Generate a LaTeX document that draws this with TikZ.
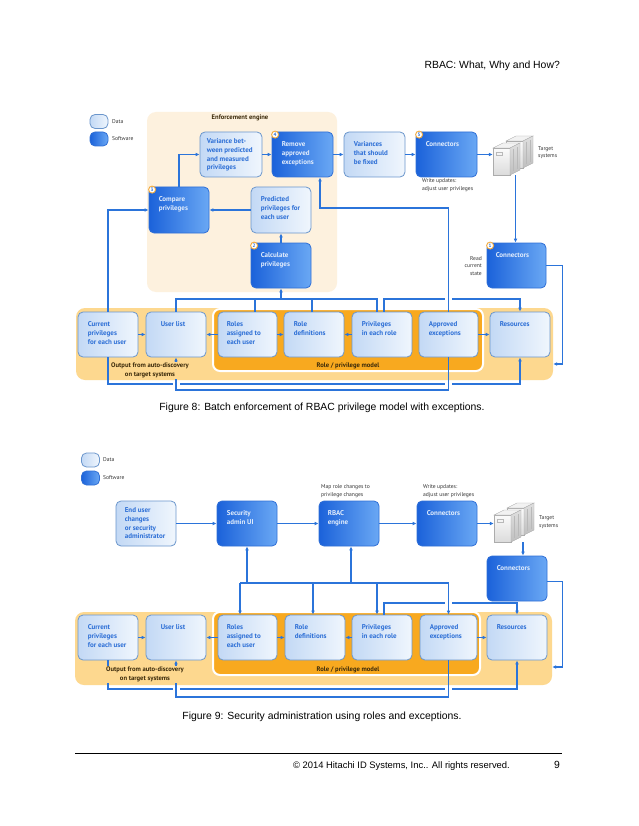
\documentclass[tikz,border=0pt]{standalone}
\usepackage{fontspec}
\setmainfont{Liberation Sans}
\newfontfamily\bxf{PT Sans}
\usetikzlibrary{arrows.meta,calc}
\definecolor{datal}{HTML}{C3D9F5}
\definecolor{datar}{HTML}{F0F6FD}
\definecolor{databorder}{HTML}{6B96CC}
\definecolor{softl}{HTML}{1B62DA}
\definecolor{softr}{HTML}{6AA8F4}
\definecolor{softborder}{HTML}{2F6FD6}
\definecolor{datatext}{HTML}{2D6FD6}
\definecolor{softtext}{HTML}{E2EDFC}
\definecolor{linec}{HTML}{2B74DA}
\definecolor{enfbg}{HTML}{FDF1DE}
\definecolor{outerbg}{HTML}{FDD88F}
\definecolor{modelbg}{HTML}{F8A91F}
\definecolor{labelc}{HTML}{3B2A0A}
\definecolor{notec}{HTML}{333333}
\definecolor{badgeo}{HTML}{F2A93B}
\newcommand\mybox[9]{%
  \node[#2, minimum width={(#5-#3)*1pt}, minimum height={(#6-#4)*1pt}] (#1) at ({(#3+#5)/2},{(#4+#6)/2}) {};
  \node[#2txt, anchor=north west] (#1-t) at ([xshift=#7pt,yshift=-#8pt]#1.north west) {#9};}
\newcommand\onesrv[2]{%
  \shade[top color=gray!3, bottom color=gray!28, draw=gray!65, line width=0.4pt] (#1,#2+5) rectangle (#1+17,#2+32);
  \fill[gray!10, draw=gray!65, line width=0.4pt] (#1,#2+5) -- (#1+10,#2) -- (#1+27,#2) -- (#1+17,#2+5) -- cycle;
  \shade[top color=gray!25, bottom color=gray!50, draw=gray!65, line width=0.4pt] (#1+17,#2+5) -- (#1+27,#2) -- (#1+27,#2+27) -- (#1+17,#2+32) -- cycle;
  \draw[gray!55, line width=0.4pt] (#1+3,#2+9) rectangle (#1+9,#2+12);
  \draw[gray!55, line width=0.4pt] (#1+20,#2+6) -- (#1+20,#2+28) (#1+24,#2+4) -- (#1+24,#2+26);}
\newcommand\servers{\onesrv{13}{0}\onesrv{0}{7}}
\tikzset{
  base/.style={rounded corners=5pt, line width=0.8pt, inner sep=0pt},
  data/.style={base, draw=databorder, left color=datal, right color=datar},
  soft/.style={base, draw=softborder, left color=softl, right color=softr},
  datatxt/.style={font=\bxf\bfseries\fontsize{7}{8.7}\selectfont, text=datatext, align=left, inner sep=0pt},
  softtxt/.style={font=\bxf\bfseries\fontsize{7}{8.7}\selectfont, text=softtext, align=left, inner sep=0pt},
  ln/.style={draw=linec, line width=1.1pt},
  arr/.style={ln, -{Latex[length=4pt,width=3.8pt]}},
  gapw/.style={draw=white, line width=3pt},
  badge/.style={circle, draw=badgeo, fill=white, line width=0.9pt, inner sep=0pt, minimum size=7pt, font=\bxf\bfseries\fontsize{5}{5}\selectfont, text=datatext},
  note/.style={font=\bxf\fontsize{5.6}{7.6}\selectfont, text=notec, inner sep=0pt},
  grplbl/.style={font=\bxf\bfseries\fontsize{6.6}{8.8}\selectfont, text=labelc, inner sep=0pt, align=center},
  outlbl/.style={grplbl, fill=outerbg, inner sep=0.6pt},
  legbox/.style={base, rounded corners=3pt, minimum width=18pt, minimum height=14pt},
  page/.style={font=\fontsize{10.4}{12}\selectfont, inner sep=0pt},
  srvnode/.style={inner sep=0pt, minimum width=40pt, minimum height=39pt}
}
\begin{document}
\begin{tikzpicture}[x=1pt,y=-1pt]
\useasboundingbox (0,0) rectangle (638,826);
\fill[white] (0,0) rectangle (638,826);
% page texts
\node[page, anchor=base east] (hdr) at (560,69) {RBAC: What, Why and How?};
\node[page] (cap8) at (322,408) {Figure 8: Batch enforcement of RBAC privilege model with exceptions.};
\node[page] (cap9) at (322,717) {Figure 9: Security administration using roles and exceptions.};
\coordinate (fl) at (75,753);
\coordinate (fr) at (562,753);
\draw[line width=0.7pt] (fl) -- (fr);
\node[page, font=\fontsize{9.4}{11}\selectfont, anchor=base east] (foot) at (510,768) {© 2014 Hitachi ID Systems, Inc.. All rights reserved.};
\node[page, anchor=base east] (pgno) at (560,768) {9};

% ================= FIGURE 8 =================
\node[legbox, data] (leg8d) at (99,121.5) {};
\node[note, anchor=west] (leg8dt) at (112,121.5) {Data};
\node[legbox, soft] (leg8s) at (99,139) {};
\node[note, anchor=west] (leg8st) at (112,139) {Software};

\node[fill=enfbg, rounded corners=9pt, minimum width=190pt, minimum height=180pt, inner sep=0pt] (enf) at (242,202) {};
\node[grplbl, anchor=north] (enft) at (240,115) {Enforcement engine};

\node[fill=outerbg, rounded corners=9pt, minimum width=477pt, minimum height=72pt, inner sep=0pt] (outer8) at (314.5,344) {};
\node[fill=modelbg, draw=white, line width=2pt, rounded corners=7pt, minimum width=270pt, minimum height=62pt, inner sep=0pt] (model8) at (348,340) {};

\mybox{var}{data}{200}{132}{262}{177}{7}{7}{Variance bet-\\ween predicted\\and measured\\privileges}
\mybox{rem}{soft}{272}{132}{333}{177}{10}{10}{Remove\\approved\\exceptions}
\mybox{vsf}{data}{344}{132}{405}{177}{10}{10}{Variances\\that should\\be fixed}
\mybox{con5}{soft}{416}{132}{477}{177}{10}{10}{Connectors}
\mybox{cmp}{soft}{149}{187}{209}{233}{10}{10}{Compare\\privileges}
\mybox{pred}{data}{251}{187}{311}{233}{10}{10}{Predicted\\privileges for\\each user}
\mybox{calc}{soft}{251}{243}{311}{288}{10}{10}{Calculate\\privileges}
\mybox{con1}{soft}{487}{243}{546}{288}{9}{10}{Connectors}
\mybox{cur8}{data}{78}{312}{138}{357}{10}{10}{Current\\privileges\\for each user}
\mybox{ul8}{data}{146}{312}{206}{357}{15}{10}{User list}
\mybox{rol8}{data}{218}{312}{277}{357}{9}{10}{Roles\\assigned to\\each user}
\mybox{rdef8}{data}{284}{312}{344}{357}{10}{10}{Role\\definitions}
\mybox{priv8}{data}{352}{312}{412}{357}{10}{10}{Privileges\\in each role}
\mybox{appr8}{data}{419}{312}{478}{357}{10}{10}{Approved\\exceptions}
\mybox{res8}{data}{490}{312}{550}{357}{10}{10}{Resources}

\node[badge] (b1) at ([xshift=3.5pt,yshift=-3pt]con1.north west) {1};
\node[badge] (b2) at ([xshift=3.5pt,yshift=-3pt]calc.north west) {2};
\node[badge] (b3) at ([xshift=3.5pt,yshift=-3pt]cmp.north west) {3};
\node[badge] (b4) at ([xshift=3.5pt,yshift=-3pt]rem.north west) {4};
\node[badge] (b5) at ([xshift=3.5pt,yshift=-3pt]con5.north west) {5};

\node[srvnode] (srv8) at (513,155.5) {};
\begin{scope}[shift={(493,136)}]\servers\end{scope}
\node[note, anchor=west, align=left] (tgt8) at (538,152.5) {Target\\systems};
\node[note, anchor=north west, align=left] (wu8) at (422,178.5) {Write updates:\\adjust user privileges};
\node[note, anchor=east, align=right] (rcs8) at (482,266) {Read\\current\\state};

\coordinate (y208) at (0,208);
\coordinate (y299) at (0,299);
\coordinate (y384) at (0,384);
\coordinate (y390) at (0,390);

\draw[arr] (cmp.north) |- (var.west);
\draw[arr] (var.east) -- (rem.west);
\draw[arr] (rem.east) -- (vsf.west);
\draw[arr] (vsf.east) -- (con5.west);
\draw[arr] (con5.east) -- (con5.east -| srv8.west);
\draw[arr] ([xshift=2.5pt]srv8.south) -- ([xshift=2.5pt]srv8.south |- con1.north);
\draw[arr] (pred.west) -- (cmp.east);
\draw[arr] (calc.north) -- (pred.south);
\draw[arr] (cur8.north) |- (cmp.west);
\draw[arr] (con1.east) -| ([xshift=9pt,yshift=-20pt]outer8.east) -- ([yshift=-20pt]outer8.east);

\draw[arr] (cur8.east) -- (ul8.west);
\draw[arr] (rol8.west) -- (ul8.east);
\draw[arr] (rol8.east) -- (rdef8.west);
\draw[arr] (priv8.west) -- (rdef8.east);
\draw[arr] (appr8.east) -- (res8.west);

\draw[ln] (ul8.north) -- (ul8.north |- y299) -- ([xshift=-5pt]priv8.north |- y299) -- ([xshift=-5pt]priv8.north);
\draw[ln] ([xshift=7.5pt]rol8.north) -- ([xshift=7.5pt]rol8.north |- y299);
\draw[ln] ([xshift=-2pt]rdef8.north) -- ([xshift=-2pt]rdef8.north |- y299);
\draw[arr] (calc.south |- y299) -- (calc.south);
\draw[arr] ([xshift=2pt]priv8.north) -- ([xshift=2pt]priv8.north |- y299) -| (res8.north);
\draw[gapw] ([xshift=-3.5pt]appr8.north |- y299) -- ([xshift=3.5pt]appr8.north |- y299);
\draw[arr] (appr8.north) -- (appr8.north |- y208) -| ([xshift=17.5pt]rem.south);

\draw[arr] (cur8.south) -- (cur8.south |- y384) -| (res8.south);
\draw[gapw] ([xshift=-3.5pt]ul8.south |- y384) -- ([xshift=3.5pt]ul8.south |- y384);
\draw[gapw] ([xshift=-3.5pt]appr8.south |- y384) -- ([xshift=3.5pt]appr8.south |- y384);
\draw[arr] (appr8.south) -- (appr8.south |- y390) -| (ul8.south);

\node[outlbl] (out8t) at (150,370.5) {Output from auto-discovery\\on target systems};
\node[grplbl] (mod8t) at (348,366) {Role / privilege model};

% ================= FIGURE 9 =================
\node[legbox, data] (leg9d) at (90.5,460) {};
\node[note, anchor=west] (leg9dt) at (103,460) {Data};
\node[legbox, soft] (leg9s) at (90.5,478) {};
\node[note, anchor=west] (leg9st) at (103,478) {Software};

\node[fill=outerbg, rounded corners=9pt, minimum width=477pt, minimum height=73pt, inner sep=0pt] (outer9) at (313.5,648.5) {};
\node[fill=modelbg, draw=white, line width=2pt, rounded corners=7pt, minimum width=267pt, minimum height=63pt, inner sep=0pt] (model9) at (346.5,643.5) {};

\mybox{eu}{data}{116}{501}{176}{546}{9}{7}{End user\\changes\\or security\\administrator}
\mybox{sa}{soft}{217}{501}{277}{546}{10}{10}{Security\\admin UI}
\mybox{rbac}{soft}{319}{501}{379}{546}{9}{10}{RBAC\\engine}
\mybox{con9}{soft}{417}{501}{477}{546}{10}{10}{Connectors}
\mybox{con2}{soft}{487}{556}{547}{601}{10}{10}{Connectors}
\mybox{cur9}{data}{78}{615}{138}{660}{10}{10}{Current\\privileges\\for each user}
\mybox{ul9}{data}{146}{615}{206}{660}{15}{10}{User list}
\mybox{rol9}{data}{218}{615}{277}{660}{9}{10}{Roles\\assigned to\\each user}
\mybox{rdef9}{data}{285}{615}{345}{660}{10}{10}{Role\\definitions}
\mybox{priv9}{data}{352}{615}{412}{660}{10}{10}{Privileges\\in each role}
\mybox{appr9}{data}{420}{615}{477}{660}{10}{10}{Approved\\exceptions}
\mybox{res9}{data}{487}{615}{547}{660}{10}{10}{Resources}

\node[srvnode] (srv9) at (514,522.5) {};
\begin{scope}[shift={(494,503)}]\servers\end{scope}
\node[note, anchor=west, align=left] (tgt9) at (539,522) {Target\\systems};
\node[note, anchor=west, align=left] (mr9) at (321,491) {Map role changes to\\privilege changes};
\node[note, anchor=west, align=left] (wu9) at (423,491) {Write updates:\\adjust user privileges};

\coordinate (y583) at (0,583);
\coordinate (y603) at (0,603);
\coordinate (y689) at (0,689);
\coordinate (y697) at (0,697);

\draw[arr] (eu.east) -- (sa.west);
\draw[arr] (sa.east) -- (rbac.west);
\draw[arr] (rbac.east) -- (con9.west);
\draw[arr] (con9.east) -- (con9.east -| srv9.west);
\draw[arr] ([xshift=9pt]srv9.south) -- ([xshift=9pt]srv9.south |- con2.north);
\draw[arr] ([yshift=-3pt]con2.east) -| ([xshift=10pt,yshift=-18.5pt]outer9.east) -- ([yshift=-18.5pt]outer9.east);

\draw[arr] (cur9.east) -- (ul9.west);
\draw[arr] (rol9.west) -- (ul9.east);
\draw[arr] (rol9.east) -- (rdef9.west);
\draw[arr] (priv9.west) -- (rdef9.east);
\draw[arr] (appr9.east) -- (res9.west);

\draw[ln] ([xshift=-7.5pt]rol9.north |- y583) -- (appr9.north |- y583);
\draw[arr] (sa.south |- y583) -- (sa.south);
\draw[arr] ([xshift=2pt]rbac.south |- y583) -- ([xshift=2pt]rbac.south);
\draw[arr] ([xshift=2pt]priv9.north) -- ([xshift=2pt]priv9.north |- y603) -| (res9.north);
\draw[gapw] ([xshift=-3.5pt]appr9.north |- y603) -- ([xshift=3.5pt]appr9.north |- y603);
\draw[arr] ([xshift=-7.5pt]rol9.north |- y583) -- ([xshift=-7.5pt]rol9.north);
\draw[arr] ([xshift=-2pt]rdef9.north |- y583) -- ([xshift=-2pt]rdef9.north);
\draw[arr] ([xshift=-5pt]priv9.north |- y583) -- ([xshift=-5pt]priv9.north);
\draw[arr] (appr9.north |- y583) -- (appr9.north);

\draw[arr] (cur9.south) -- (cur9.south |- y689) -| (res9.south);
\draw[gapw] ([xshift=-3.5pt]ul9.south |- y689) -- ([xshift=3.5pt]ul9.south |- y689);
\draw[gapw] ([xshift=-3.5pt]appr9.south |- y689) -- ([xshift=3.5pt]appr9.south |- y689);
\draw[arr] (appr9.south) -- (appr9.south |- y697) -| (ul9.south);

\node[outlbl] (out9t) at (145,674.5) {Output from auto-discovery\\on target systems};
\node[grplbl] (mod9t) at (348,670) {Role / privilege model};
\end{tikzpicture}
\end{document}
